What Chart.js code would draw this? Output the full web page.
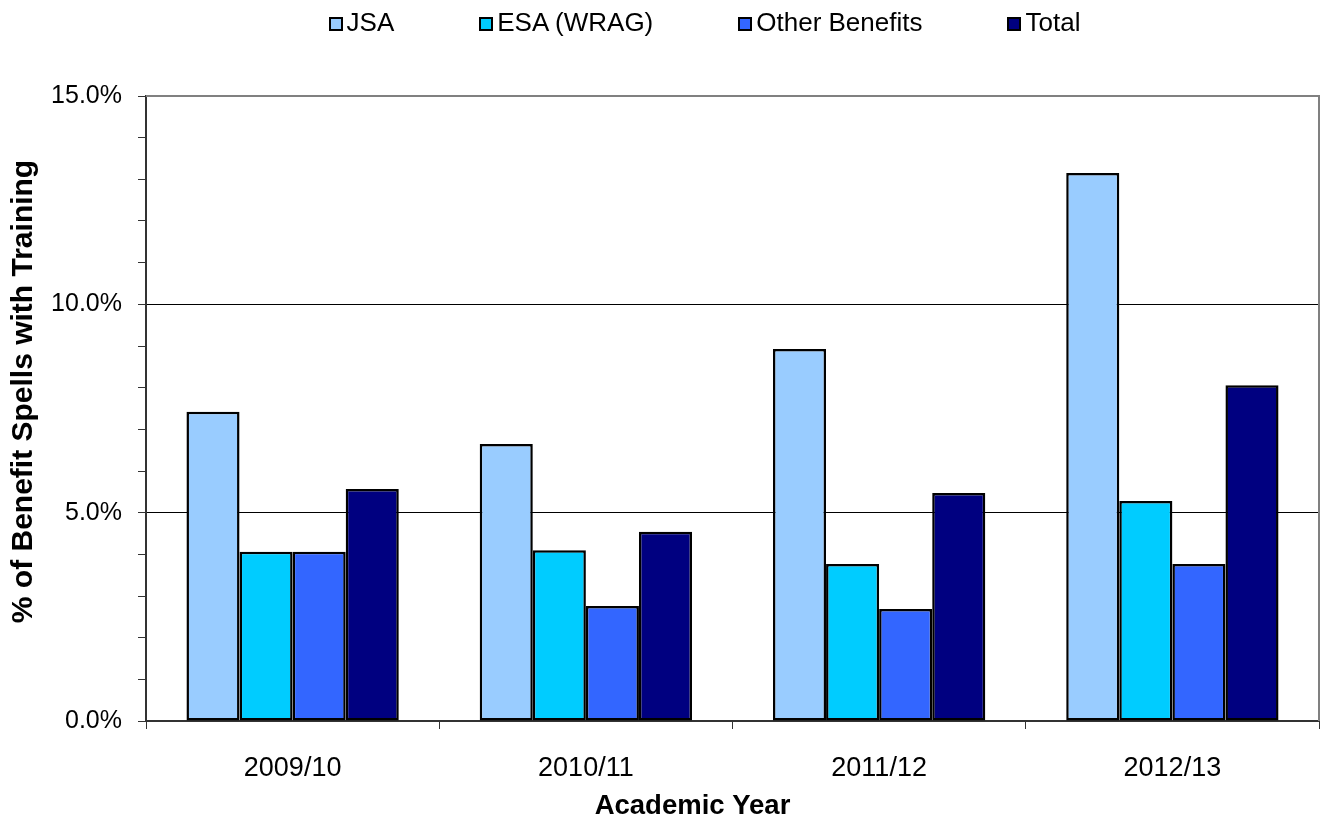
<!DOCTYPE html>
<html>
<head>
<meta charset="utf-8">
<script src="https://cdn.jsdelivr.net/npm/chart.js@4/dist/chart.umd.min.js"></script>
<style>
  body { margin: 0; background: #fff; }
  .wrap { position: relative; width: 1327px; height: 820px; }
  #legend { position: absolute; top: 0; left: 82px; right: 0; height: 44px;
    display: flex; justify-content: center; align-items: center; gap: 85px;
    font-family: "Liberation Sans", Arial, sans-serif; font-size: 26px; color: #000; }
  #legend .box { display: inline-block; vertical-align: baseline; width: 10px; height: 10px;
    border: 2px solid #000; margin-right: 4px; }
</style>
</head>
<body>
<div class="wrap">
  <canvas id="chart" width="1327" height="820"></canvas>
  <div id="legend"></div>
</div>
<script>
const years = ['2009/10', '2010/11', '2011/12', '2012/13'];
const jsa = [7.42, 6.65, 8.93, 13.15];
const esa = [4.06, 4.10, 3.77, 5.28];
const otherBenefits = [4.06, 2.76, 2.69, 3.77];
const total = [5.57, 4.54, 5.47, 8.06];

const xTitle = 'Academic Year';
const yTitle = '% of Benefit Spells with Training';

const font = "'Liberation Sans', Arial, sans-serif";

const htmlLegend = {
  id: 'htmlLegend',
  afterUpdate(chart) {
    const el = document.getElementById('legend');
    el.innerHTML = '';
    chart.data.datasets.forEach(ds => {
      const item = document.createElement('span');
      const box = document.createElement('span');
      box.className = 'box';
      box.style.background = ds.backgroundColor;
      item.appendChild(box);
      item.appendChild(document.createTextNode(ds.label));
      el.appendChild(item);
    });
  }
};

// grey frame on top/right of the plot, and the two axis titles
const frame = {
  id: 'frame',
  afterDatasetsDraw(chart) {
    const { ctx, chartArea: a } = chart;
    ctx.save();
    ctx.strokeStyle = '#808080';
    ctx.lineWidth = 2;
    ctx.beginPath();
    ctx.moveTo(a.left, a.top);
    ctx.lineTo(a.right, a.top);
    ctx.lineTo(a.right, a.bottom);
    ctx.stroke();
    ctx.restore();
  },
  afterDraw(chart) {
    const { ctx, chartArea: a } = chart;
    ctx.save();
    ctx.fillStyle = '#000';
    ctx.textAlign = 'center';
    ctx.textBaseline = 'middle';
    ctx.font = 'bold 27.5px ' + font;
    ctx.fillText(xTitle, (a.left + a.right) / 2 - 40, 806);
    ctx.translate(24, (a.top + a.bottom) / 2 - 17);
    ctx.rotate(-Math.PI / 2);
    ctx.font = 'bold 30px ' + font;
    ctx.fillText(yTitle, 0, 0);
    ctx.restore();
  }
};

new Chart(document.getElementById('chart'), {
  type: 'bar',
  data: {
    labels: years,
    datasets: [
      { label: 'JSA', data: jsa, backgroundColor: '#99CCFF' },
      { label: 'ESA (WRAG)', data: esa, backgroundColor: '#00CCFF' },
      { label: 'Other Benefits', data: otherBenefits, backgroundColor: '#3366FF' },
      { label: 'Total', data: total, backgroundColor: '#000080' }
    ]
  },
  options: {
    responsive: false,
    animation: false,
    layout: { padding: { top: 96, right: 8, left: 0, bottom: 0 } },
    datasets: {
      bar: { borderColor: '#000', borderWidth: 2.5, borderSkipped: false,
        categoryPercentage: 0.724, barPercentage: 1 }
    },
    plugins: { legend: { display: false }, tooltip: { enabled: false } },
    scales: {
      x: {
        grid: { offset: true, drawOnChartArea: false, tickColor: '#333', tickLength: 8 },
        border: { color: '#333', width: 2 },
        ticks: { color: '#000', font: { family: font, size: 27 }, padding: 23 },
        afterFit(scale) { scale.height = 99; }
      },
      y: {
        min: 0,
        max: 15,
        ticks: {
          stepSize: 1, autoSkip: false, color: '#000', padding: 16,
          font: { family: font, size: 25 },
          callback: v => (v % 5 === 0 ? v.toFixed(1) + '%' : '')
        },
        grid: {
          tickLength: 8, tickColor: '#333',
          color: c => (c.tick && c.tick.value % 5 === 0 && c.tick.value > 0 && c.tick.value < 15) ? '#000' : 'rgba(0,0,0,0)'
        },
        border: { color: '#333', width: 2 },
        afterFit(scale) { scale.width = 146; }
      }
    }
  },
  plugins: [htmlLegend, frame]
});
</script>
</body>
</html>
